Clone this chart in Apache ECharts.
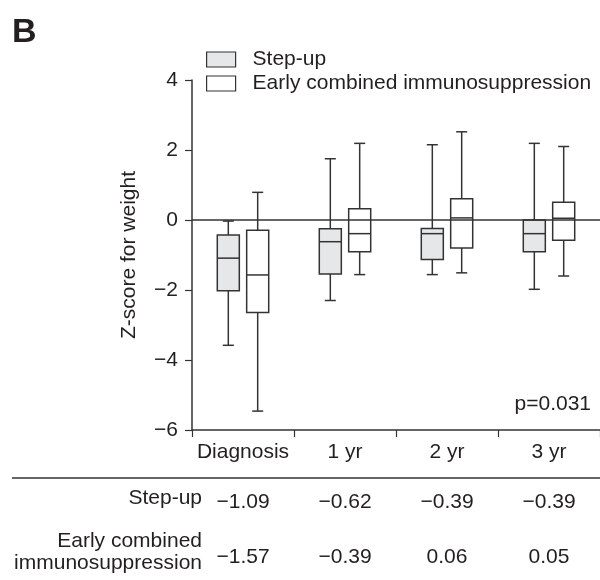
<!DOCTYPE html>
<html>
<head>
<meta charset="utf-8">
<style>
    html, body { margin: 0; padding: 0; background: #fff; }
    #chart { width: 600px; height: 580px; }
</style>
</head>
<body>
<div id="chart"></div>
<script src="https://cdn.jsdelivr.net/npm/echarts@6/dist/echarts.min.js"></script>
<script type="text/javascript">
    // time points
    var categories = ['Diagnosis', '1 yr', '2 yr', '3 yr'];
    // [min, Q1, median, Q3, max] per time point
    var stepUp = [
        [-3.58, -2.02, -1.09, -0.43, -0.03],
        [-2.30, -1.54, -0.62, -0.25, 1.75],
        [-1.56, -1.13, -0.39, -0.24, 2.15],
        [-1.98, -0.91, -0.39, 0.00, 2.19]
    ];
    var earlyCombined = [
        [-5.46, -2.64, -1.57, -0.29, 0.79],
        [-1.56, -0.91, -0.39, 0.32, 2.19],
        [-1.51, -0.80, 0.06, 0.61, 2.52],
        [-1.60, -0.58, 0.05, 0.51, 2.10]
    ];
    var yTicks = [-6, -4, -2, 0, 2, 4];
    var pValue = 'p=0.031';

    var FONT = "'Liberation Sans', Arial, sans-serif";
    var FS = 21;
    var INK = '#231f20';
    var LINE = '#333333';
    var GREY = '#e6e7e8';

    function minusFmt(v) {
        return v < 0 ? '\u2212' + Math.abs(v) : String(v);
    }
    function medianFmt(v) {
        return v < 0 ? '\u2212' + Math.abs(v).toFixed(2) : v.toFixed(2);
    }
    function toRows(list) {
        return list.map(function (d, i) { return [i].concat(d); });
    }

    // draws one box with half-width whisker caps, shifted inside the band
    function boxRenderer(shift, fill) {
        return function (params, api) {
            var i = api.value(0);
            var band = api.size([1, 0])[0];
            var cx = api.coord([i, 0])[0] + band * shift;
            var half = band * 0.108;
            var cap = half / 2;
            var yMin = api.coord([i, api.value(1)])[1];
            var yQ1 = api.coord([i, api.value(2)])[1];
            var yMed = api.coord([i, api.value(3)])[1];
            var yQ3 = api.coord([i, api.value(4)])[1];
            var yMax = api.coord([i, api.value(5)])[1];
            var ls = { stroke: LINE, lineWidth: 1.5 };
            return {
                type: 'group',
                children: [
                    { type: 'line', shape: { x1: cx, y1: yMax, x2: cx, y2: yQ3 }, style: ls },
                    { type: 'line', shape: { x1: cx, y1: yQ1, x2: cx, y2: yMin }, style: ls },
                    { type: 'line', shape: { x1: cx - cap, y1: yMax, x2: cx + cap, y2: yMax }, style: ls },
                    { type: 'line', shape: { x1: cx - cap, y1: yMin, x2: cx + cap, y2: yMin }, style: ls },
                    { type: 'rect', shape: { x: cx - half, y: yQ3, width: half * 2, height: yQ1 - yQ3 },
                        style: { fill: fill, stroke: LINE, lineWidth: 1.5 } },
                    { type: 'line', shape: { x1: cx - half, y1: yMed, x2: cx + half, y2: yMed }, style: ls }
                ]
            };
        };
    }

    var labelStyle = { fontSize: FS, color: INK, fontFamily: FONT, interval: 0 };

    var myChart = echarts.init(document.getElementById('chart'));
    var option = {
        animation: false,
        textStyle: { fontFamily: FONT, color: INK },
        title: {
            text: 'B', left: 7, top: 11,
            textStyle: { fontFamily: FONT, fontSize: 34, fontWeight: 'bold', color: INK }
        },
        legend: {
            orient: 'vertical', left: 206, top: 49, padding: 0,
            itemWidth: 29, itemHeight: 15, itemGap: 3, icon: 'rect',
            selectedMode: false,
            textStyle: { fontFamily: FONT, fontSize: FS, color: INK, padding: [0, 0, 0, 12] },
            data: [
                { name: 'Step-up', itemStyle: { color: GREY, borderColor: LINE, borderWidth: 1.2 } },
                { name: 'Early combined immunosuppression', itemStyle: { color: '#fff', borderColor: LINE, borderWidth: 1.2 } }
            ]
        },
        grid: { left: 192, top: 80, width: 416, height: 350 },
        xAxis: [
            {
                type: 'category', data: categories, boundaryGap: true,
                axisLine: { onZero: false, lineStyle: { color: LINE, width: 1.5 } },
                axisTick: { show: true, length: 7, lineStyle: { color: LINE, width: 1.2 } },
                axisLabel: Object.assign({ margin: 12 }, labelStyle)
            },
            {
                type: 'category', position: 'bottom', offset: 62,
                data: stepUp.map(function (d) { return medianFmt(d[2]); }),
                axisLine: { show: false, onZero: false }, axisTick: { show: false },
                axisLabel: Object.assign({ margin: 0 }, labelStyle)
            },
            {
                type: 'category', position: 'bottom', offset: 117,
                data: earlyCombined.map(function (d) { return medianFmt(d[2]); }),
                axisLine: { show: false, onZero: false }, axisTick: { show: false },
                axisLabel: Object.assign({ margin: 0 }, labelStyle)
            }
        ],
        yAxis: {
            type: 'value', min: yTicks[0], max: yTicks[yTicks.length - 1], interval: 2,
            name: 'Z-score for weight', nameLocation: 'middle', nameGap: 52,
            nameTextStyle: { fontSize: FS, color: INK, fontFamily: FONT },
            axisLine: { show: true, lineStyle: { color: LINE, width: 1.5 } },
            axisTick: { show: true, length: 7, lineStyle: { color: LINE, width: 1.2 } },
            axisLabel: { margin: 14, fontSize: FS, color: INK, fontFamily: FONT, formatter: minusFmt },
            splitLine: { show: false }
        },
        series: [
            {
                name: 'Step-up', type: 'custom', xAxisIndex: 0,
                renderItem: boxRenderer(-0.144, GREY),
                itemStyle: { color: GREY, borderColor: LINE },
                encode: { x: 0, y: [1, 2, 3, 4, 5] },
                data: toRows(stepUp)
            },
            {
                name: 'Early combined immunosuppression', type: 'custom', xAxisIndex: 0,
                renderItem: boxRenderer(0.144, '#fff'),
                itemStyle: { color: '#fff', borderColor: LINE },
                encode: { x: 0, y: [1, 2, 3, 4, 5] },
                data: toRows(earlyCombined),
                markLine: {
                    silent: true, symbol: 'none', z: 10,
                    label: { show: false },
                    lineStyle: { color: LINE, width: 1.5, type: 'solid' },
                    data: [{ yAxis: 0 }]
                }
            }
        ],
        graphic: [
            { type: 'text', right: 9, top: 394, style: { text: pValue, font: FS + 'px ' + FONT, fill: INK } },
            { type: 'line', shape: { x1: 12, y1: 478, x2: 600, y2: 478 }, style: { stroke: LINE, lineWidth: 1.5 } },
            { type: 'text', x: 202, y: 498, style: { text: 'Step-up', font: FS + 'px ' + FONT, fill: INK, textAlign: 'right', textVerticalAlign: 'middle' } },
            { type: 'text', x: 202, y: 552, style: { text: 'Early combined\nimmunosuppression', font: FS + 'px ' + FONT, fill: INK, textAlign: 'right', textVerticalAlign: 'middle', lineHeight: 22 } }
        ]
    };
    myChart.setOption(option);
</script>
</body>
</html>
